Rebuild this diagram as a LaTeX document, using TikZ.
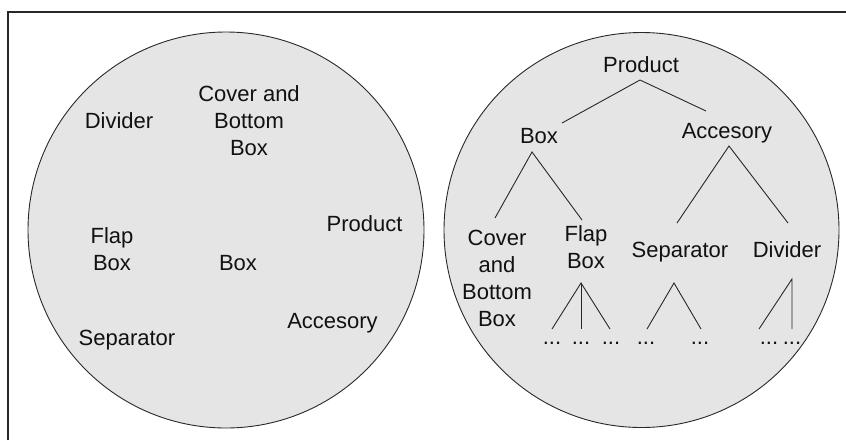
\documentclass[tikz,border=0pt]{standalone}
\usepackage{fontspec}
\setmainfont{Liberation Sans}
\usetikzlibrary{calc}
\definecolor{discfill}{RGB}{229,229,229}
\definecolor{inkline}{RGB}{40,40,40}
\definecolor{inktext}{RGB}{17,17,17}
\tikzset{
  disc/.style={draw=inkline, line width=0.9pt, fill=discfill},
  frameline/.style={draw=inkline, line width=1.1pt},
  label/.style={anchor=base, inner sep=0pt, align=center, text=inktext,
    font=\fontsize{22pt}{26.7pt}\selectfont},
  dotsnode/.style={anchor=base, inner sep=0pt, text=inktext,
    font=\fontsize{22pt}{26.7pt}\selectfont},
  branch/.style={draw=inkline, line width=0.9pt}
}
\begin{document}
\begin{tikzpicture}[x=1pt, y=-1pt]
\useasboundingbox (0,0) rectangle (846,440);
% frame
\draw[frameline] (8,440) -- (8,12) -- (846,12);

% the two discs
\path[disc] (226,230) circle[radius=198];
\path[disc] (641.5,230) circle[radius=197.5];

% unordered set of items (multi-line labels sit on their last line)
\node[label] (lDiv)  at (119,128)   {Divider};
\node[label] (lCov)  at (249,155)   {Cover and\\Bottom\\Box};
\node[label] (lProd) at (364.5,231) {Product};
\node[label] (lFlap) at (112,270)   {Flap\\Box};
\node[label] (lBox)  at (238,270)   {Box};
\node[label] (lAcc)  at (332.5,328) {Accesory};
\node[label] (lSep)  at (127,345)   {Separator};

% hierarchy
\node[label] (rProd) at (641,72)  {Product};
\node[label] (rBox)  at (539,143) {Box};
\node[label] (rAcc)  at (727,138) {Accesory};
\node[label] (rCov)  at (497,326) {Cover\\and\\Bottom\\Box};
\node[label] (rFlap) at (586,268) {Flap\\Box};
\node[label] (rSep)  at (680,257) {Separator};
\node[label] (rDiv)  at (787,257) {Divider};

\node[dotsnode] (d1) at (552,344.5) {...};
\node[dotsnode] (d2) at (581,344.5) {...};
\node[dotsnode] (d3) at (611,344.5) {...};
\node[dotsnode] (d4) at (646,344.5) {...};
\node[dotsnode] (d5) at (700,344.5) {...};
\node[dotsnode] (d6) at (769,344.5) {...};
\node[dotsnode] (d7) at (792,344.5) {...};

% branch points around the labels
\coordinate (rProd-d) at ([shift={(-1,8)}]rProd.base);
\coordinate (rBox-u)  at ([shift={(23,-20)}]rBox.base);
\coordinate (rAcc-u)  at ([shift={(-21,-27)}]rAcc.base);
\coordinate (rBox-d)  at ([shift={(-7,9)}]rBox.base);
\coordinate (rAcc-d)  at ([shift={(2,8)}]rAcc.base);
\coordinate (rCov-u)  at ([shift={(-2,-108)}]rCov.base);
\coordinate (rFlap-u) at ([shift={(-4,-48)}]rFlap.base);
\coordinate (rSep-u)  at ([shift={(-3,-34)}]rSep.base);
\coordinate (rDiv-u)  at ([shift={(1,-34)}]rDiv.base);
\coordinate (rFlap-d) at ([shift={(-5,15)}]rFlap.base);
\coordinate (rSep-d)  at ([shift={(-6,26)}]rSep.base);
\coordinate (rDiv-d)  at ([shift={(5,22)}]rDiv.base);
\coordinate (d1-u) at ([shift={(0,-15.5)}]d1.base);
\coordinate (d2-u) at ([shift={(0,-15.5)}]d2.base);
\coordinate (d3-u) at ([shift={(-1,-15.5)}]d3.base);
\coordinate (d4-u) at ([shift={(1,-15.5)}]d4.base);
\coordinate (d5-u) at ([shift={(1,-15.5)}]d5.base);
\coordinate (d6-u) at ([shift={(-10,-15.5)}]d6.base);
\coordinate (d7-u) at ([shift={(0,-15.5)}]d7.base);

\draw[branch] (rBox-u) -- (rProd-d) -- (rAcc-u);
\draw[branch] (rCov-u) -- (rBox-d) -- (rFlap-u);
\draw[branch] (rSep-u) -- (rAcc-d) -- (rDiv-u);
\draw[branch] (d1-u) -- (rFlap-d) -- (d3-u);
\draw[branch] (rFlap-d) -- (d2-u);
\draw[branch] (d4-u) -- (rSep-d) -- (d5-u);
\draw[branch] (d6-u) -- (rDiv-d) -- (d7-u);
\end{tikzpicture}
\end{document}
